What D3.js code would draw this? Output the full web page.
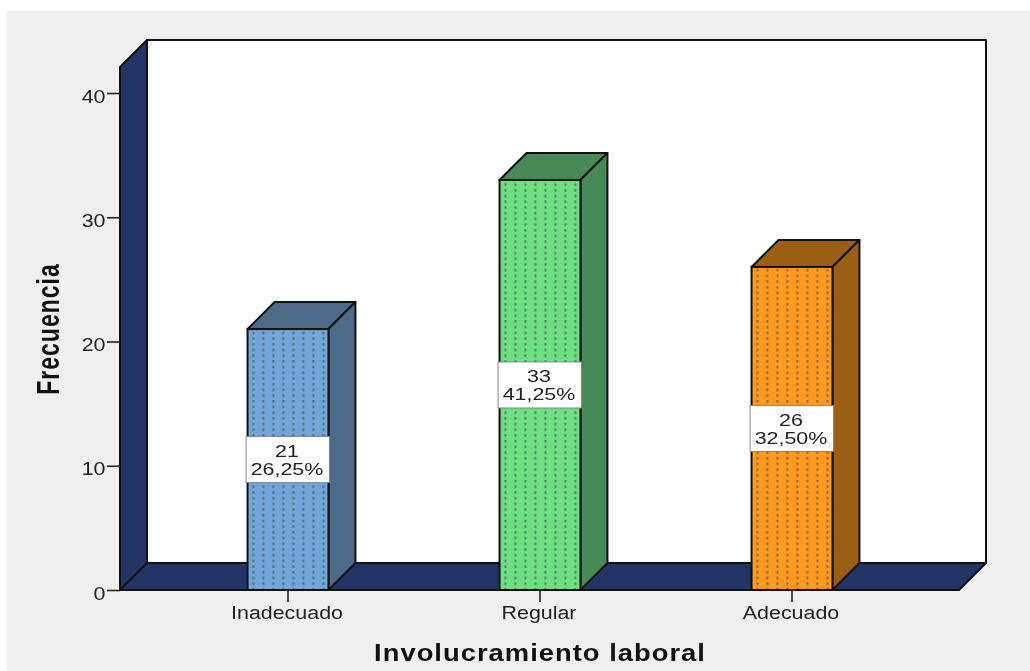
<!DOCTYPE html>
<html><head><meta charset="utf-8">
<script src="https://cdn.jsdelivr.net/npm/d3@7"></script>
<style>html,body{margin:0;padding:0;background:#fff}svg{display:block;filter:blur(0.45px)}text{font-family:"Liberation Sans",Arial,sans-serif;fill:#222}</style>
</head><body><div id="c"></div>
<script>
const categories = ["Inadecuado","Regular","Adecuado"];
const counts = [21,33,26];
const percents = ["26,25%","41,25%","32,50%"];
const yTicks = [0,10,20,30,40];
const frontColors = ["#72a6d8","#6fe082","#ff9a1f"];
const sideColors = ["#4d6b88","#478a55","#9a5f12"];
const xTitle = "Involucramiento laboral";
const yTitle = "Frecuencia";

const W=1030,H=671,x0=120,x1=960,yBase=590,depth=27,topY=40,sx=1.19;
const svg=d3.select("#c").append("svg").attr("width",W).attr("height",H);
svg.append("rect").attr("x",7).attr("y",11).attr("width",W-7).attr("height",H-11).attr("fill","#efefef");
const y=d3.scaleLinear().domain([0,40]).range([yBase,93]);
const x=d3.scaleBand().domain(categories).range([162,918]).paddingInner(0.679).paddingOuter(0.3395);
const wall="#233566",stroke="#111";
const poly=(pts,fill,sw=2)=>svg.append("polygon").attr("points",pts.map(p=>p.join(",")).join(" ")).attr("fill",fill).attr("stroke",stroke).attr("stroke-width",sw).attr("stroke-linejoin","round");

const defs=svg.append("defs");
categories.forEach((c,i)=>{
  const p=defs.append("pattern").attr("id","dots"+i).attr("patternUnits","userSpaceOnUse").attr("width",10).attr("height",5.7).attr("x",x(c)+1).attr("y",0);
  p.append("rect").attr("width",10).attr("height",5.7).attr("fill",frontColors[i]);
  p.append("rect").attr("x",3.9).attr("y",1).attr("width",1.8).attr("height",2.5).attr("fill","#33434d").attr("opacity",.68);
});

poly([[x0+depth,topY],[x1+depth-1,topY],[x1+depth-1,yBase-depth],[x0+depth,yBase-depth]],"#fff");
poly([[x0,topY+depth],[x0+depth,topY],[x0+depth,yBase-depth],[x0,yBase]],wall);
poly([[x0,yBase],[x0+depth,yBase-depth],[x1+depth-1,yBase-depth],[x1-1,yBase]],wall);

const styleAxis=(g,tx,ty)=>{
  g.select(".domain").remove();
  g.selectAll(".tick line").attr("stroke","#222").attr("stroke-width",1.6);
  g.selectAll(".tick text").attr("x",0).attr("y",0).attr("dy",0).attr("font-size",18).attr("font-family",null)
   .attr("transform",`translate(${tx},${ty}) scale(${sx},1)`);
};
svg.append("g").attr("transform",`translate(${x0},0)`)
  .call(d3.axisLeft(y).tickValues(yTicks).tickSize(13).tickPadding(1))
  .call(g=>styleAxis(g,-14.5,9));

categories.forEach((c,i)=>{
  const l=x(c),r=l+x.bandwidth(),t=y(counts[i]);
  poly([[l,t],[l+depth,t-depth],[r+depth,t-depth],[r,t]],sideColors[i]);
  poly([[r,t],[r+depth,t-depth],[r+depth,yBase-depth],[r,yBase]],sideColors[i]);
  svg.append("rect").attr("x",l).attr("y",t).attr("width",r-l).attr("height",yBase-t).attr("fill",`url(#dots${i})`).attr("stroke",stroke).attr("stroke-width",2);
  const cx=(l+r)/2,cy=(t+yBase)/2;
  svg.append("rect").attr("x",l-1.5).attr("y",cy-23).attr("width",r-l+2.5).attr("height",46).attr("fill","#fff").attr("stroke","#888").attr("stroke-width",1);
  [[counts[i],-2.5],[percents[i],15.5]].forEach(([s,dy])=>
    svg.append("text").attr("transform",`translate(${cx-1},${cy+dy}) scale(1.34,1)`).attr("text-anchor","middle").attr("font-size",16).text(s));
});
svg.append("g").attr("transform",`translate(0,${yBase})`)
  .call(d3.axisBottom(x).tickSize(12).tickPadding(1))
  .call(g=>styleAxis(g,-1,29));

svg.append("text").attr("transform",`translate(540,660.5) scale(${sx},1)`).attr("text-anchor","middle").attr("font-size",23).attr("font-weight","bold").attr("letter-spacing",0.85).style("fill","#111").text(xTitle);
svg.append("text").attr("transform","translate(59,329) rotate(-90) scale(1,1.35)").attr("text-anchor","middle").attr("font-size",23).attr("font-weight","bold").attr("letter-spacing",1).style("fill","#111").text(yTitle);
</script></body></html>
